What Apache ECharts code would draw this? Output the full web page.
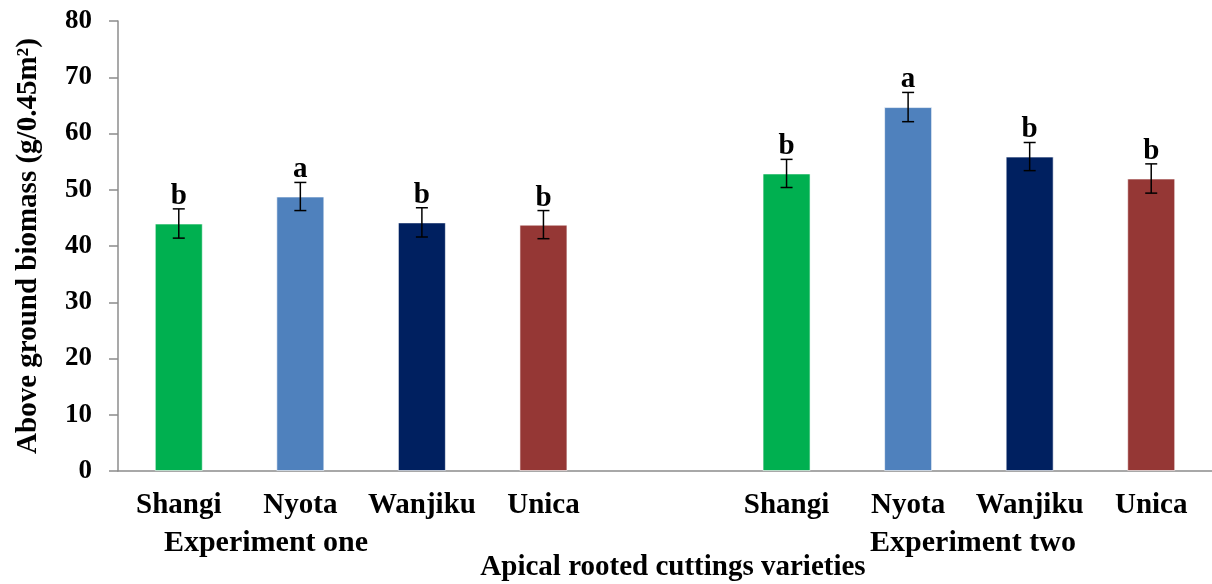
<!DOCTYPE html>
<html>
<head>
<meta charset="utf-8">
<title>Above ground biomass</title>
<script src="https://cdn.jsdelivr.net/npm/echarts@6/dist/echarts.min.js"></script>
<style>
  html, body { margin: 0; padding: 0; background: #fff; }
  #chart { width: 1212px; height: 584px; }
</style>
</head>
<body>
<div id="chart"></div>
<script>
// Varieties in each experiment; an empty slot separates the two groups
const varieties = ['Shangi', 'Nyota', 'Wanjiku', 'Unica'];
const groupNames = ['Experiment one', 'Experiment two'];

// Mean above ground biomass (g/0.45 m²)
const meansOne = [44.0, 48.8, 44.2, 43.8];
const meansTwo = [52.9, 64.7, 55.9, 52.0];

// Standard errors
const errorsOne = [2.6, 2.5, 2.6, 2.5];
const errorsTwo = [2.5, 2.6, 2.5, 2.6];

// Mean separation letters
const lettersOne = ['b', 'a', 'b', 'b'];
const lettersTwo = ['b', 'a', 'b', 'b'];

// Y axis ticks
const yTicks = [0, 10, 20, 30, 40, 50, 60, 70, 80];

const barColors = ['#00B050', '#4F81BD', '#002060', '#953735'];
const FONT = "'Liberation Serif', 'Times New Roman', serif";

// Build the combined category list with one blank gap slot
const categories = [...varieties, '', ...varieties];
const barData = [];
const errData = [];
function addGroup(means, errs, letters, offset) {
  means.forEach((m, i) => {
    barData.push({ value: m, itemStyle: { color: barColors[i] } });
    errData.push([offset + i, m, errs[i], letters[i]]);
  });
}
addGroup(meansOne, errorsOne, lettersOne, 0);
barData.push('-');
addGroup(meansTwo, errorsTwo, lettersTwo, varieties.length + 1);

const chart = echarts.init(document.getElementById('chart'), null, { renderer: 'canvas' });

function textEl(text, x, y, size) {
  return {
    type: 'text',
    x: x,
    y: y,
    style: { text: text, fill: '#000', font: 'bold ' + size + 'px ' + FONT, align: 'center', verticalAlign: 'middle' }
  };
}

const option = {
  animation: false,
  backgroundColor: '#ffffff',
  grid: { left: 118, top: 21, width: 1099, height: 450, containLabel: false },
  xAxis: {
    type: 'category',
    data: categories,
    axisLine: { lineStyle: { color: '#8c8c8c', width: 1.5 } },
    axisTick: { show: false },
    axisLabel: {
      interval: 0,
      margin: 20,
      color: '#000',
      fontFamily: FONT,
      fontWeight: 'bold',
      fontSize: 29
    },
    splitLine: { show: false }
  },
  yAxis: {
    type: 'value',
    min: yTicks[0],
    max: yTicks[yTicks.length - 1],
    interval: yTicks[1] - yTicks[0],
    name: 'Above ground biomass (g/0.45m²)',
    nameLocation: 'middle',
    nameGap: 75,
    nameTextStyle: {
      color: '#000',
      fontFamily: FONT,
      fontWeight: 'bold',
      fontSize: 29
    },
    axisLine: { show: true, lineStyle: { color: '#8c8c8c', width: 1.5 } },
    axisTick: { show: true, length: 9, lineStyle: { color: '#8c8c8c', width: 1.5 } },
    axisLabel: {
      margin: 26,
      color: '#000',
      fontFamily: FONT,
      fontWeight: 'bold',
      fontSize: 27
    },
    splitLine: { show: false }
  },
  series: [
    {
      type: 'bar',
      data: barData,
      barWidth: 48,
      itemStyle: { borderColor: 'rgba(255,255,255,0.6)', borderWidth: 1 }
    },
    {
      type: 'custom',
      data: errData,
      encode: { x: 0, y: 1 },
      z: 5,
      renderItem: function (params, api) {
        const x = api.value(0);
        const mean = api.value(1);
        const err = api.value(2);
        const letter = errData[params.dataIndex][3];
        const top = api.coord([x, mean + err]);
        const bottom = api.coord([x, mean - err]);
        const cap = 6;
        const style = { stroke: '#000', lineWidth: 1.5 };
        return {
          type: 'group',
          children: [
            { type: 'line', shape: { x1: top[0], y1: top[1], x2: bottom[0], y2: bottom[1] }, style },
            { type: 'line', shape: { x1: top[0] - cap, y1: top[1], x2: top[0] + cap, y2: top[1] }, style },
            { type: 'line', shape: { x1: bottom[0] - cap, y1: bottom[1], x2: bottom[0] + cap, y2: bottom[1] }, style },
            {
              type: 'text',
              x: top[0],
              y: top[1] + 2,
              style: {
                text: letter,
                fill: '#000',
                font: 'bold 29px ' + FONT,
                align: 'center',
                verticalAlign: 'bottom'
              }
            }
          ]
        };
      }
    }
  ],
  graphic: [
    textEl(groupNames[0], 266, 543, 30),
    textEl(groupNames[1], 973, 543, 30),
    textEl('Apical rooted cuttings varieties', 673, 568, 29)
  ]
};

chart.setOption(option);
</script>
</body>
</html>
